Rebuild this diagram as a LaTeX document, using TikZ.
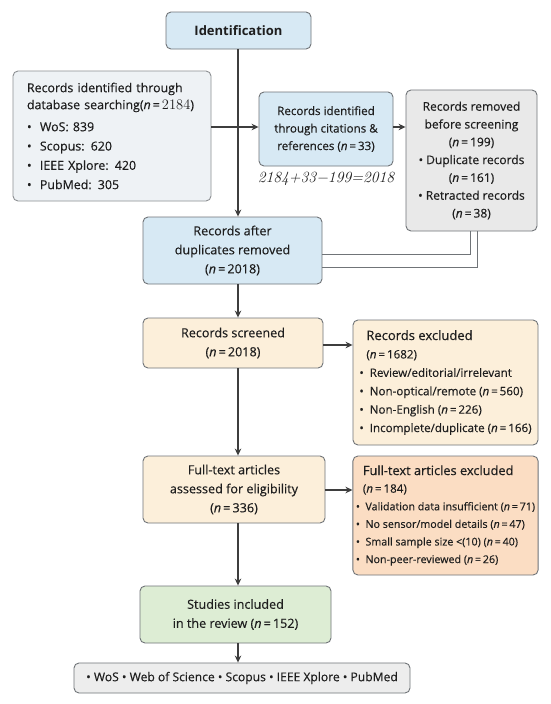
\documentclass[tikz,border=0pt]{standalone}
\usepackage[no-math]{fontspec}
\setmainfont{Open Sans}[UprightFeatures={FakeBold=0.35},ItalicFeatures={FakeBold=0.35}]
\usetikzlibrary{arrows.meta,calc}
\definecolor{bluefill}{HTML}{D7E9F4}
\definecolor{lightfill}{HTML}{EEF2F5}
\definecolor{grayfill}{HTML}{E9E9E9}
\definecolor{creamfill}{HTML}{FCEFDA}
\definecolor{peachfill}{HTML}{FBDDC3}
\definecolor{greenfill}{HTML}{DDEDD4}
\definecolor{botfill}{HTML}{EDEDED}
\definecolor{edge}{HTML}{707478}
\definecolor{arrowc}{HTML}{3E3E3E}
\definecolor{txt}{HTML}{1E1E1E}
\begin{document}
\begin{tikzpicture}[x=1pt,y=-1pt,
  box/.style={draw=edge, line width=0.9pt, rounded corners=5pt, align=center,
    inner sep=3pt, text=txt, font=\fontsize{12.6}{19}\selectfont},
  lbox/.style={box, align=left},
  arr/.style={-{Stealth[length=7pt,width=6.5pt]}, line width=1.1pt, draw=arrowc},
  conn/.style={line width=1pt, draw=edge}]
\useasboundingbox (0,0) rectangle (550,704);
\fill[white] (0,0) rectangle (550,704);
\newcommand{\nn}{\textit{n}}
% nodes
\node[box, fill=bluefill, minimum width=145pt, minimum height=37pt, font=\fontsize{13}{16}\selectfont\bfseries] (ident) at (238.5,30.5) {Identification};
\node[lbox, fill=lightfill, draw=edge!80, minimum width=198pt, minimum height=130pt, text width=170pt, font=\fontsize{12.4}{17}\selectfont] (left) at (112,136)
 {Records identified through\\ database searching({\itshape n}\,=\,{\fontfamily{lmr}\upshape\fontsize{14.5}{17}\selectfont 2184})\\[5pt]
  \textbullet\ \ WoS: 839\\[2.3pt] \textbullet\ \ Scopus: 620\\[2.3pt] \textbullet\ \ IEEE Xplore: 420\\[2.3pt] \textbullet\ \ PubMed: 305};
\node[box, fill=bluefill, minimum width=134pt, minimum height=74pt, font=\fontsize{11.6}{17.5}\selectfont] (cit) at (326,129)
 {Records identified\\ through citations \&\\ references (\nn\,=\,33)};
\node[text=txt, font=\fontsize{15.6}{16}\selectfont\fontfamily{lmr}\itshape\selectfont] (formula) at (326,179) {2184+33−199=2018};
\node[box, fill=grayfill, minimum width=131pt, minimum height=141pt, font=\fontsize{12}{17.8}\selectfont] (removed) at (471.5,160.5)
 {Records removed\\ before screening\\ (\nn\,=\,199)\\ \textbullet\ Duplicate records\\ (\nn\,=\,161)\\ \textbullet\ Retracted records\\ (\nn\,=\,38)};
\node[box, fill=bluefill, minimum width=179pt, minimum height=67pt] (after) at (232.5,250.5)
 {Records after\\ duplicates removed\\ (\nn\,=\,2018)};
\node[box, fill=creamfill, minimum width=180pt, minimum height=50pt] (screened) at (233,343)
 {Records screened\\ (\nn\,=\,2018)};
\node[lbox, fill=creamfill, minimum width=185pt, minimum height=125pt, font=\fontsize{11.6}{18.4}\selectfont] (excluded) at (445.5,382.5)
 {\hspace*{7pt}{\fontsize{13}{18.4}\selectfont Records excluded}\\ \hspace*{7pt}(\nn\,=\,1682)\\
  \textbullet\ \ Review/editorial/irrelevant\\ \textbullet\ \ Non-optical/remote (\nn\,=\,560)\\ \textbullet\ \ Non-English (\nn\,=\,226)\\ \textbullet\ \ Incomplete/duplicate (\nn\,=\,166)};
\node[box, fill=creamfill, minimum width=182pt, minimum height=67pt] (fulltext) at (234,489.5)
 {Full-text articles\\ assessed for eligibility\\ (\nn\,=\,336)};
\node[lbox, fill=peachfill, minimum width=185pt, minimum height=119pt, font=\fontsize{10.7}{17.6}\selectfont] (ftexcl) at (445.5,515.5)
 {\hspace*{7pt}{\fontsize{12.8}{17.6}\selectfont Full-text articles excluded}\\ \hspace*{7pt}{\fontsize{11.6}{17.6}\selectfont(\nn\,=\,184)}\\
  \textbullet\ \ Validation data insufficient (\nn\,=\,71)\\ \textbullet\ \ No sensor/model details (\nn\,=\,47)\\ \textbullet\ \ Small sample size <(10) (\nn\,=\,40)\\ \textbullet\ \ Non-peer-reviewed (\nn\,=\,26)};
\node[box, fill=greenfill, minimum width=191pt, minimum height=57pt] (studies) at (235.5,614.5)
 {Studies included\\ in the review (\nn\,=\,152)};
\node[box, fill=botfill, minimum width=336pt, minimum height=30pt, font=\fontsize{12.1}{14}\selectfont] (bottom) at (242,678)
 {\textbullet\ WoS \textbullet\ Web of Science \textbullet\ Scopus \textbullet\ IEEE Xplore \textbullet\ PubMed};
% connectors
\coordinate (spine) at (238,0);
\draw[arr] (spine |- ident.south) -- (spine |- after.north);
\draw[arr] (left.east |- 0,127) -- (cit.west |- 0,127);
\draw[arr] (cit.east |- 0,127) -- (removed.west |- 0,127);
\draw[conn] ($(removed.south)+(-1.5,0)$) |- ($(after.east)+(0,3.5)$);
\draw[conn] ($(removed.south)+(5.5,0)$) |- ($(after.east)+(0,16.5)$);
\draw[arr] (spine |- after.south) -- (spine |- screened.north);
\draw[arr] (screened.east |- 0,345) -- (excluded.west |- 0,345);
\draw[arr] (spine |- screened.south) -- (spine |- fulltext.north);
\draw[arr] (fulltext.east |- 0,490) -- (ftexcl.west |- 0,490);
\draw[arr] (spine |- fulltext.south) -- (spine |- studies.north);
\draw[arr] (spine |- studies.south) -- (spine |- bottom.north);
\end{tikzpicture}
\end{document}
